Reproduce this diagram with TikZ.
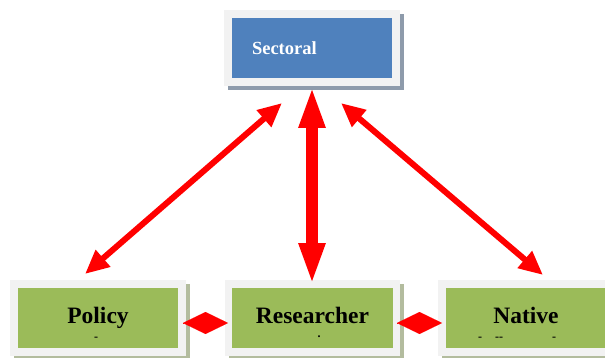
\documentclass[tikz,border=0pt]{standalone}
\usepackage{fontspec}
\setmainfont{Liberation Serif}
\usetikzlibrary{arrows.meta}
\definecolor{boxblue}{HTML}{4F81BD}
\definecolor{boxgreen}{HTML}{9BBB59}
\definecolor{framegray}{HTML}{F2F2F2}
\definecolor{shadowblue}{HTML}{8E9BAB}
\definecolor{shadowgreen}{HTML}{B3BC9E}
\tikzset{
  box/.style={draw=framegray, line width=7.5pt, minimum width=168pt, minimum height=68pt, inner sep=0pt},
  bluebox/.style={box, fill=boxblue, text=white, font=\fontsize{18.5}{21}\selectfont\bfseries,
    preaction={draw=shadowblue, fill=shadowblue, line width=7.5pt, transform canvas={xshift=4pt,yshift=-4pt}}},
  greenbox/.style={box, fill=boxgreen, text=black, font=\fontsize{23.5}{27}\selectfont\bfseries,
    text height=16pt, text depth=5pt,
    preaction={draw=shadowgreen, fill=shadowgreen, line width=7.5pt, transform canvas={xshift=4pt,yshift=-4pt}}},
  subtxt/.style={font=\fontsize{12}{14}\selectfont\bfseries, inner sep=0pt},
  dblarrow/.style={draw=red, line width=6pt, {Triangle[length=24pt,width=21pt]}-{Triangle[length=24pt,width=21pt]}},
  bigarrow/.style={draw=red, line width=12pt, {Triangle[length=42pt,width=24pt]}-{Triangle[length=42pt,width=24pt]}},
  diamondarrow/.style={draw=red, line width=0.1pt, -{Kite[length=45pt,width=22pt,inset=22.5pt]}}
}
\begin{document}
\begin{tikzpicture}[x=1pt,y=-1pt]
\fill[white] (0,0) rectangle (605,358);
\useasboundingbox (0,0) rectangle (605,358);
\clip (0,0) rectangle (605,358);
% boxes
\node[bluebox, text width=120pt, align=left, inner xsep=24pt] (sect) at (312,48) {Sectoral};
\node[greenbox] (pol) at (98,318) {Policy};
\node[greenbox] (res) at (312.5,318) {Researcher};
\node[greenbox] (nat) at (526,318) {Native};
% clipped fragments of second lines
\node[subtxt] (polsub) at (96,339) {-};
\node[subtxt] (ressub) at (319,337) {.};
\node[subtxt] (natsubA) at (480,339) {-};
\node[subtxt] (natsubB) at (499,339) {-{}-};
\node[subtxt] (natsubC) at (554,339) {-};
% connector end points
\coordinate (lt) at (282,103);
\coordinate (lb) at (85,274);
\coordinate (rt) at (341,103);
\coordinate (rb) at (543,275);
\coordinate (vt) at (312,86);
\coordinate (vb) at (312,285);
\coordinate (d1a) at (183,323);
\coordinate (d1b) at (228,323);
\coordinate (d2a) at (397,323);
\coordinate (d2b) at (442,323);
% connectors
\draw[dblarrow] (lb) -- (lt);
\draw[dblarrow] (rb) -- (rt);
\draw[bigarrow] (vb) -- (vt);
\draw[diamondarrow] (d1a) -- (d1b);
\draw[diamondarrow] (d2a) -- (d2b);
\end{tikzpicture}
\end{document}
